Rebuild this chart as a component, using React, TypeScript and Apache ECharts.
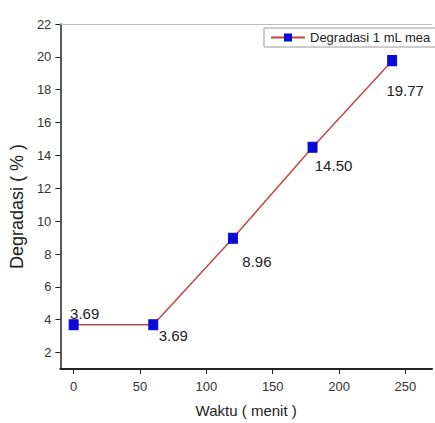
import React, { useEffect, useRef } from "react";
import * as echarts from "echarts";

const times = [0, 60, 120, 180, 240];
const degradasi = [3.69, 3.69, 8.96, 14.5, 19.77];
const labelTexts = ["3.69", "3.69", "8.96", "14.50", "19.77"];
const xTicks = [0, 50, 100, 150, 200, 250];
const yTicks = [2, 4, 6, 8, 10, 12, 14, 16, 18, 20, 22];
const seriesName = "Degradasi 1 mL mea";

const labelOffsets: [number, number][] = [
  [11, -11],
  [20, 11],
  [24, 23],
  [21, 18],
  [13, 30],
];

export default function App() {
  const ref = useRef<HTMLDivElement>(null);
  useEffect(() => {
    if (!ref.current) return;
    const chart = echarts.init(ref.current, undefined, { renderer: "svg" });
    const font = "'Liberation Sans', Arial, sans-serif";
    chart.setOption({
      animation: false,
      backgroundColor: "#ffffff",
      textStyle: { fontFamily: font },
      grid: { left: 60, top: 24, right: 3, bottom: 51 },
      legend: {
        show: true,
        data: [seriesName],
        left: 264,
        top: 28,
        padding: [3, 10, 3, 6],
        itemWidth: 34,
        itemHeight: 10,
        itemGap: 4,
        borderColor: "#999",
        borderWidth: 1,
        backgroundColor: "#fff",
        borderRadius: 0,
        textStyle: { fontFamily: font, fontSize: 13, color: "#222" },
      },
      xAxis: [
        {
          type: "value",
          min: -10,
          max: 270,
          name: "Waktu ( menit )",
          nameLocation: "middle",
          nameGap: 34,
          nameTextStyle: { fontFamily: font, fontSize: 15, color: "#222" },
          splitLine: { show: false },
          axisLine: { show: true, onZero: false, lineStyle: { color: "#222", width: 2 } },
          axisTick: { show: true, inside: false, length: 5, customValues: xTicks, lineStyle: { color: "#222" } },
          axisLabel: { customValues: xTicks, fontFamily: font, fontSize: 13, color: "#333", margin: 11 },
        },
        {
          type: "value",
          position: "top",
          min: -10,
          max: 270,
          splitLine: { show: false },
          axisLine: { show: true, onZero: false, lineStyle: { color: "#bbb", width: 1 } },
          axisTick: { show: false },
          axisLabel: { show: false },
        },
      ],
      yAxis: {
        type: "value",
        min: 1,
        max: 22,
        name: "Degradasi ( % )",
        nameLocation: "middle",
        nameGap: 21,
        nameRotate: 90,
        nameTextStyle: { fontFamily: font, fontSize: 18, color: "#222", padding: [0, 20, 0, 0] },
        splitLine: { show: false },
        axisLine: { show: true, onZero: false, lineStyle: { color: "#222", width: 1.5 } },
        axisTick: { show: true, inside: false, length: 5, customValues: yTicks, lineStyle: { color: "#222" } },
        axisLabel: { customValues: yTicks, fontFamily: font, fontSize: 13, color: "#333", margin: 9 },
      },
      series: [
        {
          name: seriesName,
          type: "line",
          xAxisIndex: 0,
          data: times.map((t, i) => ({
            value: [t, degradasi[i]],
            label: {
              show: true,
              position: "inside",
              offset: labelOffsets[i],
              formatter: labelTexts[i],
              fontFamily: font,
              fontSize: 15,
              color: "#222",
            },
          })),
          symbol: "rect",
          symbolSize: [9, 10],
          itemStyle: { color: "#0a0ad8", borderColor: "#0a0ad8" },
          lineStyle: { color: "#c04848", width: 1.5 },
        },
      ],
    });
    return () => chart.dispose();
  }, []);
  return (
    <div
      ref={ref}
      style={{ position: "absolute", left: 0, top: 0, width: 435, height: 423 }}
    />
  );
}
